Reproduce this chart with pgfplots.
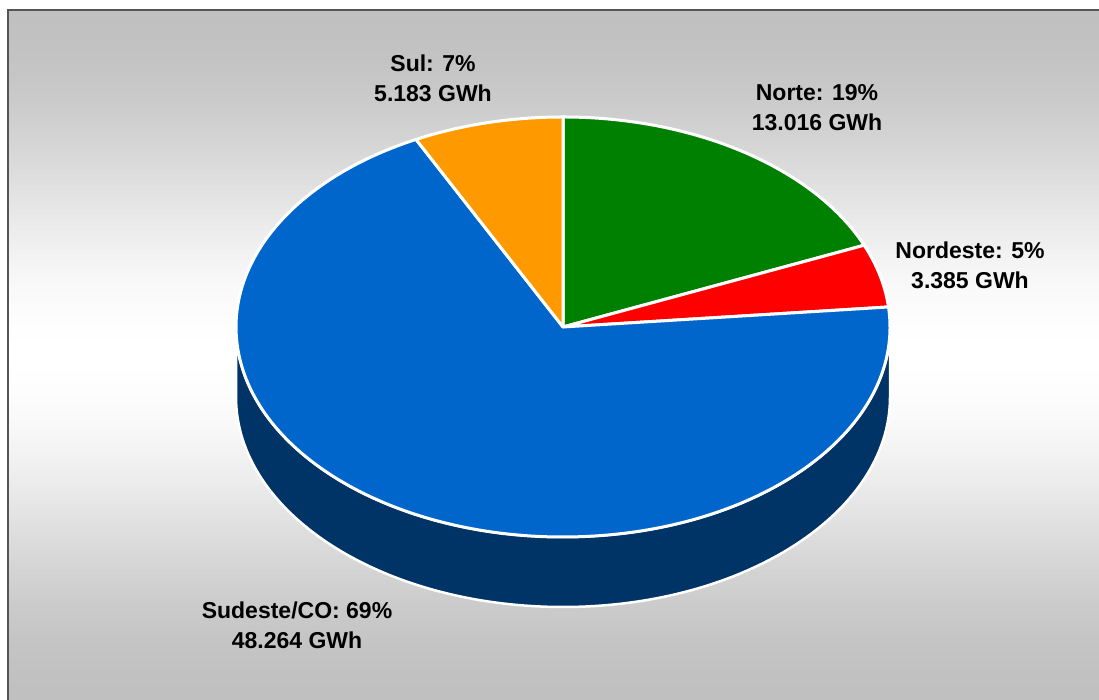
\documentclass[border=0pt]{standalone}
\usepackage{pgfplots}
\pgfplotsset{compat=1.18}
\usepackage{pgfplotstable}
\usepackage{fontspec}
\setmainfont{Liberation Sans}

\definecolor{norteGreen}{HTML}{008000}
\definecolor{nordesteRed}{HTML}{FF0000}
\definecolor{sudesteBlue}{HTML}{0066CC}
\definecolor{sulOrange}{HTML}{FF9900}
\definecolor{wallBlue}{HTML}{003366}
\definecolor{bgGray}{HTML}{C0C0C0}
\definecolor{frameGray}{HTML}{555555}

% GWh per region, clockwise from 12 o'clock
\pgfplotstableread{
region value
Norte 13016
Nordeste 3385
Sudeste 48264
Sul 5183
}\piedata

\newcommand\getval[2]{\pgfplotstablegetelem{#1}{value}\of\piedata\edef#2{\pgfplotsretval}}

\begin{document}
\begin{tikzpicture}[
    lbl/.style={font=\bfseries\fontsize{23}{30}\selectfont, align=center, inner sep=0pt},
    slice/.style={draw=white, line width=3pt, line join=round},
  ]
  % background: gray -> white -> gray, in thin bands
  \foreach \i in {0,...,137} {
    \pgfmathsetmacro\u{abs(12.5+5*\i-355)/345}
    \pgfmathsetmacro\g{100*(3*\u*\u-2*\u*\u*\u)}
    \pgfmathsetmacro\yhi{690-5*\i}
    \pgfmathsetmacro\ylo{max(-2,684.6-5*\i)}
    \fill[bgGray!\g!white] (8.5pt,\yhi pt) rectangle (1102pt,\ylo pt);
  }
  \draw[frameGray, line width=1.2pt] (8pt,-2pt) -- (8pt,690pt) -- (1102pt,690pt);
  \getval{0}\vA \getval{1}\vB \getval{2}\vC \getval{3}\vD
  \edef\tot{\fpeval{\vA+\vB+\vC+\vD}}
  \edef\aA{90}
  \edef\aB{\fpeval{\aA-360*\vA/\tot}}
  \edef\aC{\fpeval{\aB-360*\vB/\tot}}
  \edef\aD{\fpeval{\aC-360*\vC/\tot}}
  \edef\aE{\fpeval{\aD-360*\vD/\tot}}
  \begin{axis}[
    width=1099pt, height=700pt, scale only axis,
    xmin=0, xmax=1099, ymin=0, ymax=700,
    hide axis, clip=false,
  ]
    % front wall (only Sudeste/CO is visible there)
    \fill[wallBlue, draw=white, line width=2.5pt, line join=round]
      (236,373) -- ++(0pt,-70pt)
      arc[start angle=180, end angle=360, x radius=327pt, y radius=210pt]
      -- ++(0pt,70pt)
      arc[start angle=0, end angle=-180, x radius=327pt, y radius=210pt] -- cycle;
    % top face
    \fill[norteGreen, slice] (563,373) -- ++(\aA:327pt and 210pt)
      arc[start angle=\aA, end angle=\aB, x radius=327pt, y radius=210pt] -- cycle;
    \fill[nordesteRed, slice] (563,373) -- ++(\aB:327pt and 210pt)
      arc[start angle=\aB, end angle=\aC, x radius=327pt, y radius=210pt] -- cycle;
    \fill[sudesteBlue, slice] (563,373) -- ++(\aC:327pt and 210pt)
      arc[start angle=\aC, end angle=\aD, x radius=327pt, y radius=210pt] -- cycle;
    \fill[sulOrange, slice] (563,373) -- ++(\aD:327pt and 210pt)
      arc[start angle=\aD, end angle=\aE, x radius=327pt, y radius=210pt] -- cycle;
    % labels
    \node[lbl] at (433,621.5) {Sul: 7\%\\5.183 GWh};
    \node[lbl] at (817,592.5) {Norte: 19\%\\13.016 GWh};
    \node[lbl] at (970,435) {Nordeste: 5\%\\3.385 GWh};
    \node[lbl] at (297,75) {Sudeste/CO: 69\%\\48.264 GWh};
  \end{axis}
  \pgfresetboundingbox
  \useasboundingbox (0pt,0pt) rectangle (1099pt,700pt);
\end{tikzpicture}
\end{document}
